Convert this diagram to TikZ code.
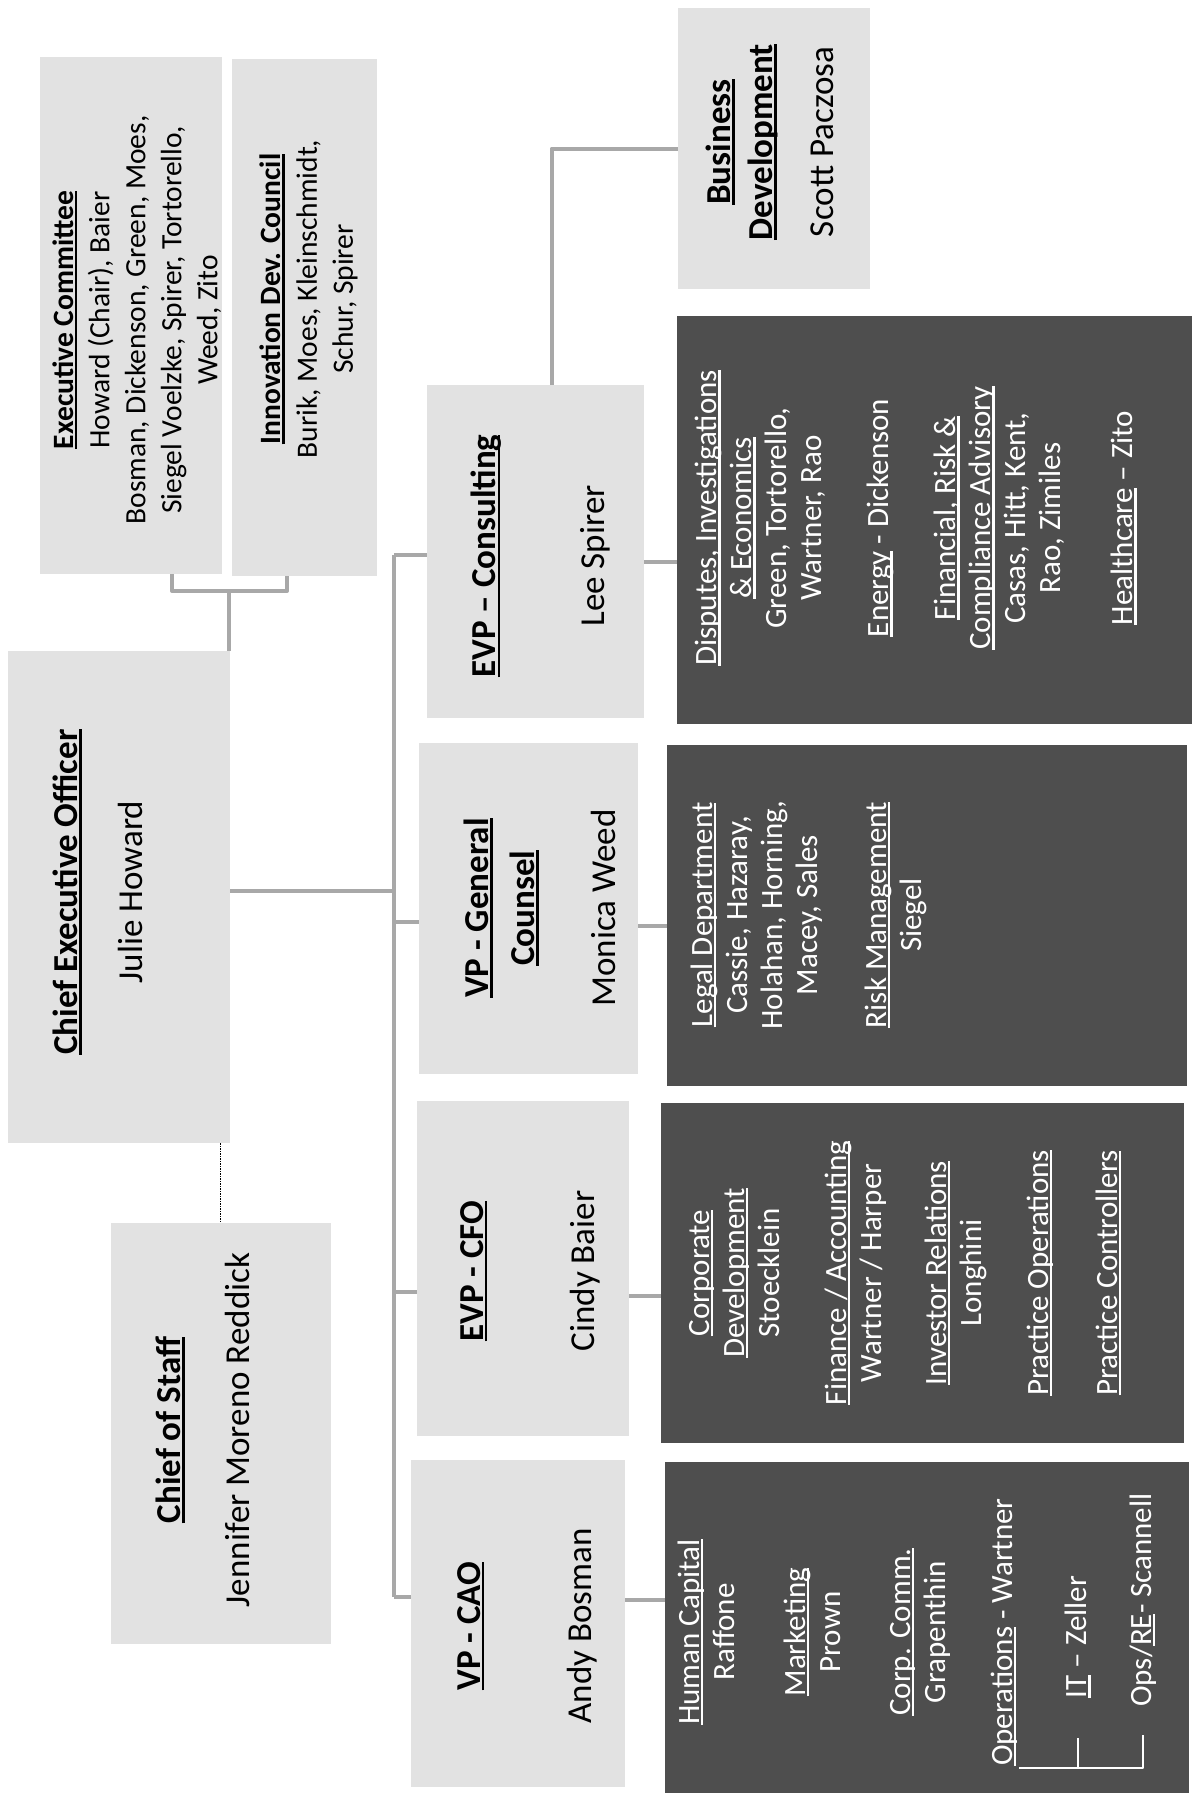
\documentclass[tikz,border=0pt]{standalone}
\usepackage{fontspec}
\setmainfont{Carlito}
\usetikzlibrary{calc}
\definecolor{boxgray}{HTML}{E2E2E2}
\definecolor{darkbox}{HTML}{4E4E4E}
\definecolor{linegray}{HTML}{A8A8A8}
% underline at a fixed depth, through the descenders
\newcommand{\un}[1]{\setbox0\hbox{#1}\rlap{\rule[-0.12em]{\wd0}{0.07em}}\box0\relax}
\newcommand{\hd}[1]{\textbf{\un{#1}}}
\begin{document}
\begin{tikzpicture}[x=1pt,y=-1pt,line join=round,
  lbox/.style={fill=boxgray,inner sep=0pt,anchor=north west},
  dbox/.style={fill=darkbox,inner sep=0pt,anchor=north west},
  ltxt/.style={rotate=90,align=center,inner sep=0pt,font=\fontsize{35}{46}\selectfont},
  stxt/.style={rotate=90,align=center,inner sep=0pt,font=\fontsize{29.5}{36}\selectfont},
  dtxt/.style={rotate=90,align=center,inner sep=0pt,text=white,font=\fontsize{31}{35}\selectfont},
  link/.style={draw=linegray,line width=4pt},
  tree/.style={draw=white,line width=1.8pt}]
\fill[white] (0,0) rectangle (1203,1803);
\useasboundingbox (0,0) rectangle (1203,1803);

% committees
\node[lbox,minimum width=182pt,minimum height=517pt] (exec) at (40,57) {};
\node[lbox,minimum width=145pt,minimum height=517pt] (innov) at (232,59) {};
\node[stxt] (exec-t) at (137,320) {\hd{Executive Committee}\\Howard (Chair), Baier\\Bosman, Dickenson, Green, Moes,\\Siegel Voelzke, Spirer, Tortorello,\\Weed, Zito};
\node[stxt] (innov-t) at (309,299) {\hd{Innovation Dev. Council}\\Burik, Moes, Kleinschmidt,\\Schur, Spirer};

% CEO and chief of staff
\node[lbox,minimum width=222pt,minimum height=492pt] (ceo) at (8,651) {};
\node[ltxt] (ceo-t) at (98,892) {\hd{Chief Executive Officer}\\[19pt]Julie Howard};
\node[lbox,minimum width=220pt,minimum height=421pt] (cos) at (111,1223) {};
\node[ltxt] (cos-t) at (203,1430) {\hd{Chief of Staff}\\[23pt]Jennifer Moreno Reddick};

% vice presidents
\node[lbox,minimum width=217pt,minimum height=333pt] (cons) at (427,385) {};
\node[ltxt] (cons-t) at (541,556) {\hd{EVP – Consulting}\\[63pt]Lee Spirer};
\node[lbox,minimum width=219pt,minimum height=331pt] (gc) at (419,743) {};
\node[ltxt] (gc-t) at (540,908) {\hd{VP - General}\\\hd{Counsel}\\[35pt]Monica Weed};
\node[lbox,minimum width=212pt,minimum height=335pt] (cfo) at (417,1101) {};
\node[ltxt] (cfo-t) at (530,1271) {\hd{EVP - CFO}\\[65pt]Cindy Baier};
\node[lbox,minimum width=214pt,minimum height=327pt] (cao) at (411,1460) {};
\node[ltxt] (cao-t) at (527,1626) {\hd{VP - CAO}\\[65pt]Andy Bosman};
\node[lbox,minimum width=192pt,minimum height=281pt] (biz) at (678,8) {};
\node[ltxt] (biz-t) at (770,142) {\hd{Business}\\[-4pt]\hd{Development}\\[15pt]Scott Paczosa};

% departments
\node[dbox,minimum width=515pt,minimum height=408pt] (dcons) at (677,316) {};
\node[dtxt] (dcons-t) at (916,518) {\un{Disputes, Investigations}\\\un{\& Economics}\\Green, Tortorello,\\Wartner, Rao\\[32pt]\un{Energy} - Dickenson\\[32pt]\un{Financial, Risk \&}\\\un{Compliance Advisory}\\Casas, Hitt, Kent,\\Rao, Zimiles\\[37pt]\un{Healthcare} – Zito};
\node[dbox,minimum width=520pt,minimum height=341pt] (dgc) at (667,745) {};
\node[dtxt] (dgc-t) at (809,915) {\un{Legal Department}\\Cassie, Hazaray,\\Holahan, Horning,\\Macey, Sales\\[34pt]\un{Risk Management}\\Siegel};
\node[dbox,minimum width=523pt,minimum height=340pt] (dcfo) at (661,1103) {};
\node[dtxt] (dcfo-t) at (905,1273) {\un{Corporate}\\\un{Development}\\Stoecklein\\[32pt]\un{Finance / Accounting}\\Wartner / Harper\\[30pt]\un{Investor Relations}\\Longhini\\[32pt]\un{Practice Operations}\\[34pt]\un{Practice Controllers}};
\node[dbox,minimum width=524pt,minimum height=331pt] (dcao) at (665,1462) {};
\node[dtxt] (dcao-t) at (848,1632) {\un{Human Capital}\\Raffone\\[36pt]\un{Marketing}\\Prown\\[35pt]\un{Corp. Comm.}\\Grapenthin\\[32pt]\un{Operations} - Wartner};
\node[dtxt] (it) at (1078,1637) {\un{IT} – Zeller};
\node[dtxt] (ore) at (1143,1600) {Ops/\un{RE}- Scannell};

% connectors
\coordinate (cj) at (229,591);
\draw[link] ([xshift=132pt]exec.south west) |- (cj) -| ([xshift=55pt]innov.south west);
\draw[link] (cj) -- (cj |- ceo.north);
\coordinate (tt) at (394,555);
\coordinate (tb) at (394,1597);
\coordinate (k0) at ([yshift=6pt]ceo.east);
\draw[link] (k0) -- (k0 -| tt);
\draw[link] (tt) -- (tb);
\draw[link] (tt) -- (tt -| cons.west);
\coordinate (k1) at ([yshift=-13pt]gc.west);
\draw[link] (k1 -| tt) -- (k1);
\coordinate (k2) at ([yshift=-23pt]cfo.west);
\draw[link] (k2 -| tt) -- (k2);
\draw[link] (tb) -- (tb -| cao.west);
\coordinate (k3) at ([yshift=-10pt]cons.east);
\draw[link] (k3) -- (k3 -| dcons.west);
\coordinate (k4) at ([yshift=-17pt]gc.east);
\draw[link] (k4) -- (k4 -| dgc.west);
\coordinate (k5) at ([yshift=-27pt]cfo.east);
\draw[link] (k5) -- (k5 -| dcfo.west);
\coordinate (k6) at ([yshift=24pt]cao.east);
\draw[link] (k6) -- (k6 -| dcao.west);
\draw[link] ([xshift=16pt]cons.north) |- (biz.west);
\coordinate (k7) at ([xshift=-10pt]ceo.south east);
\draw[densely dotted,line width=1.5pt] (k7) -- (k7 |- cos.north);
\coordinate (tr) at (1019,1768);
\draw[tree] (tr) -- (tr -| ore) -- ++(0,-33);
\draw[tree] (tr -| it) -- ++(0,-30);
\end{tikzpicture}
\end{document}
